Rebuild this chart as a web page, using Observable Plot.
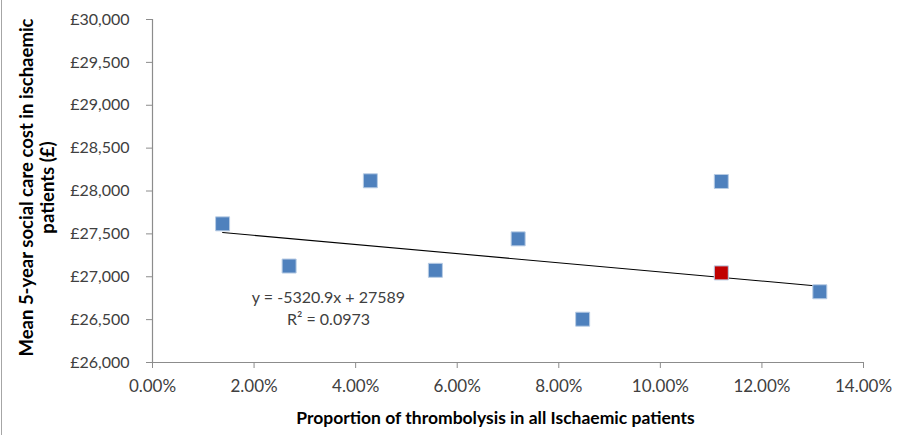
<!DOCTYPE html>
<html>
<head>
<meta charset="utf-8">
<script src="https://cdn.jsdelivr.net/npm/d3@7"></script>
<script src="https://cdn.jsdelivr.net/npm/@observablehq/plot@0.6"></script>
<style>
  html, body { margin: 0; padding: 0; background: #fff; }
  #wrap { position: relative; width: 902px; height: 435px; }
  #edge { position: absolute; left: 1px; top: 0; width: 1px; height: 435px; background: #a6a6a6; }
</style>
</head>
<body>
<div id="wrap"><div id="edge"></div></div>
<script>
// Data
const proportion = [0.0138, 0.0269, 0.0429, 0.0557, 0.0720, 0.0847, 0.1120, 0.1120, 0.1314];
const meanCost   = [27617, 27125, 28119, 27075, 27442, 26505, 28111, 27045, 26825];
const highlighted = [false, false, false, false, false, false, false, true, false];
const trendSlope = -5320.9;
const trendIntercept = 27589;
const rSquared = 0.0973;
const yTicks = [26000, 26500, 27000, 27500, 28000, 28500, 29000, 29500, 30000];
const xTicks = [0, 0.02, 0.04, 0.06, 0.08, 0.10, 0.12, 0.14];
const xTitle = "Proportion of thrombolysis in all Ischaemic patients";
const yTitle = "Mean 5-year social care cost in ischaemic\npatients (£)";

const points = proportion.map((p, i) => ({x: p, y: meanCost[i], hi: highlighted[i]}));
const xMin = d3.min(proportion), xMax = d3.max(proportion);
const trend = [xMin, xMax].map(x => ({x, y: trendIntercept + trendSlope * x}));

const axisColor = "#8c8c8c";
const font = "Lato, 'Open Sans', sans-serif";

const chart = Plot.plot({
  width: 902,
  height: 435,
  marginLeft: 152,
  marginRight: 39,
  marginTop: 19,
  marginBottom: 73,
  style: {fontFamily: font, fontSize: "17px", color: "#404040", background: "transparent"},
  x: {domain: [0, 0.14]},
  y: {domain: [26000, 30000]},
  marks: [
    Plot.ruleX([0], {stroke: axisColor, strokeWidth: 1.2}),
    Plot.ruleY([26000], {stroke: axisColor, strokeWidth: 1.2}),
    Plot.axisY({ticks: yTicks, tickFormat: d => "£" + d3.format(",")(d), tickSize: 6, tickPadding: 17,
      stroke: axisColor, fill: "#404040", fontSize: 16, label: null}),
    Plot.axisX({ticks: xTicks, tickFormat: d3.format(".2%"), tickSize: 6, tickPadding: 11,
      stroke: axisColor, fill: "#404040", fontSize: 17, label: null}),
    Plot.line(trend, {x: "x", y: "y", stroke: "#000", strokeWidth: 1.1}),
    Plot.dot(points, {x: "x", y: "y", symbol: "square", r: 7.9,
      fill: d => d.hi ? "#C00000" : "#4F81BD", stroke: "#b8cce4", strokeWidth: 1}),
    Plot.text([`y = ${trendSlope}x + ${trendIntercept}`], {
      frameAnchor: "top-left", dx: 176, dy: 291 - 19, fontSize: 16, fill: "#404040", textAnchor: "middle", lineAnchor: "top"}),
    Plot.text([`R² = ${rSquared}`], {
      frameAnchor: "top-left", dx: 176, dy: 313 - 19, fontSize: 16, fill: "#404040", textAnchor: "middle", lineAnchor: "top"}),
    Plot.text([xTitle], {frameAnchor: "bottom-left", dx: 343, dy: 56, fontSize: 17.5, fontWeight: "bold", fill: "#000", textAnchor: "middle", lineAnchor: "middle"}),
    Plot.text([yTitle], {frameAnchor: "top-left", dx: -116, dy: 168, rotate: -90, fontSize: 18.5, fontWeight: "bold", fill: "#000", textAnchor: "middle", lineAnchor: "middle", lineHeight: 1.15})
  ]
});
document.getElementById("wrap").appendChild(chart);
</script>
</body>
</html>
